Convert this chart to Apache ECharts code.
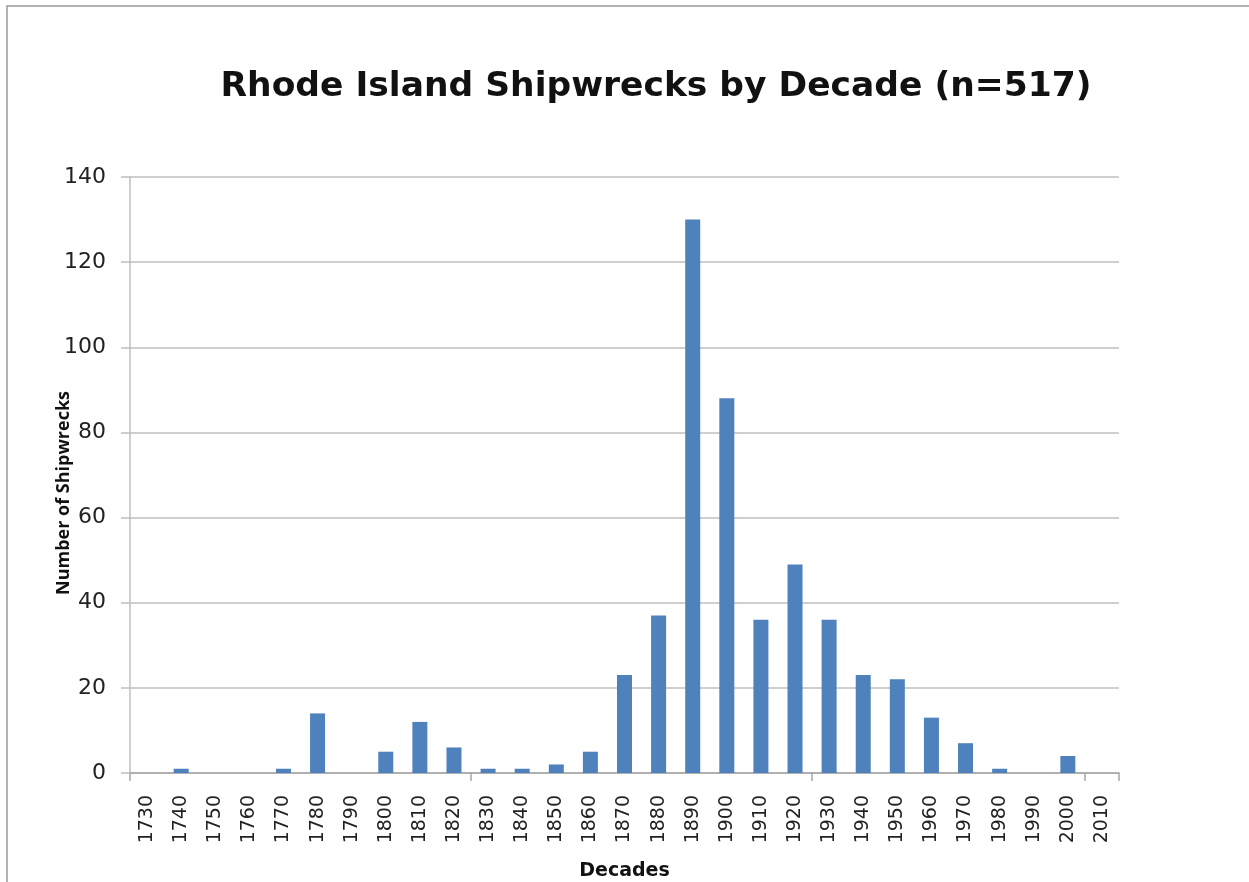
<!DOCTYPE html>
<html>
<head>
<meta charset="utf-8">
<script src="https://cdn.jsdelivr.net/npm/echarts@6/dist/echarts.min.js"></script>
<style>html,body{margin:0;padding:0;background:#fff;}#c{width:1249px;height:882px;}</style>
</head>
<body>
<div id="c"></div>
<script>
const decades = ['1730','1740','1750','1760','1770','1780','1790','1800','1810','1820','1830','1840','1850','1860','1870','1880','1890','1900','1910','1920','1930','1940','1950','1960','1970','1980','1990','2000','2010'];
const shipwrecks = [0,1,0,0,1,14,0,5,12,6,1,1,2,5,23,37,130,88,36,49,36,23,22,13,7,1,0,4,0];
const yTicks = {min:0, max:140, interval:20};

const chart = echarts.init(document.getElementById('c'));
chart.setOption({
  animation:false,
  backgroundColor:'#fff',
  graphic:[{type:'rect', shape:{x:7,y:6,width:1400,height:1000}, style:{fill:'none', stroke:'#9a9a9a', lineWidth:1.5}, silent:true}],
  title:{text:'Rhode Island Shipwrecks by Decade (n=517)', left:651, textAlign:'center', top:65,
    textStyle:{fontFamily:'DejaVu Sans', fontWeight:'bold', fontSize:34.5, color:'#111'}},
  grid:{left:130, right:130, top:177, bottom:109, containLabel:false, outerBoundsMode:'none'},
  xAxis:{type:'category', data:decades,
    name:'Decades', nameLocation:'middle', nameGap:89, nameMoveOverlap:false,
    nameTextStyle:{fontFamily:'DejaVu Sans', fontWeight:'bold', fontSize:19, color:'#111'},
    axisLine:{lineStyle:{color:'#a6a6a6', width:1.5}},
    axisTick:{show:true, interval:9, length:8, lineStyle:{color:'#a6a6a6', width:1.5}},
    axisLabel:{rotate:90, interval:0, margin:22, fontFamily:'DejaVu Sans', fontSize:19, color:'#222'}},
  yAxis:{type:'value', min:yTicks.min, max:yTicks.max, interval:yTicks.interval,
    name:'Number of Shipwrecks', nameLocation:'middle', nameGap:57, nameRotate:90, nameMoveOverlap:false,
    nameTextStyle:{fontFamily:'Open Sans', fontWeight:'bold', fontSize:18, color:'#111', padding:[0,36,0,0]},
    axisLine:{show:true, lineStyle:{color:'#bfbfbf', width:1.5}},
    axisTick:{show:true, length:9, lineStyle:{color:'#bfbfbf', width:1.5}},
    splitLine:{lineStyle:{color:'#bfbfbf', width:1.5}},
    axisLabel:{margin:24, fontFamily:'DejaVu Sans', fontSize:22, color:'#222'}},
  series:[{type:'bar', data:shipwrecks, barWidth:15, itemStyle:{color:'#4f81bd'}}]
});
</script>
</body>
</html>
